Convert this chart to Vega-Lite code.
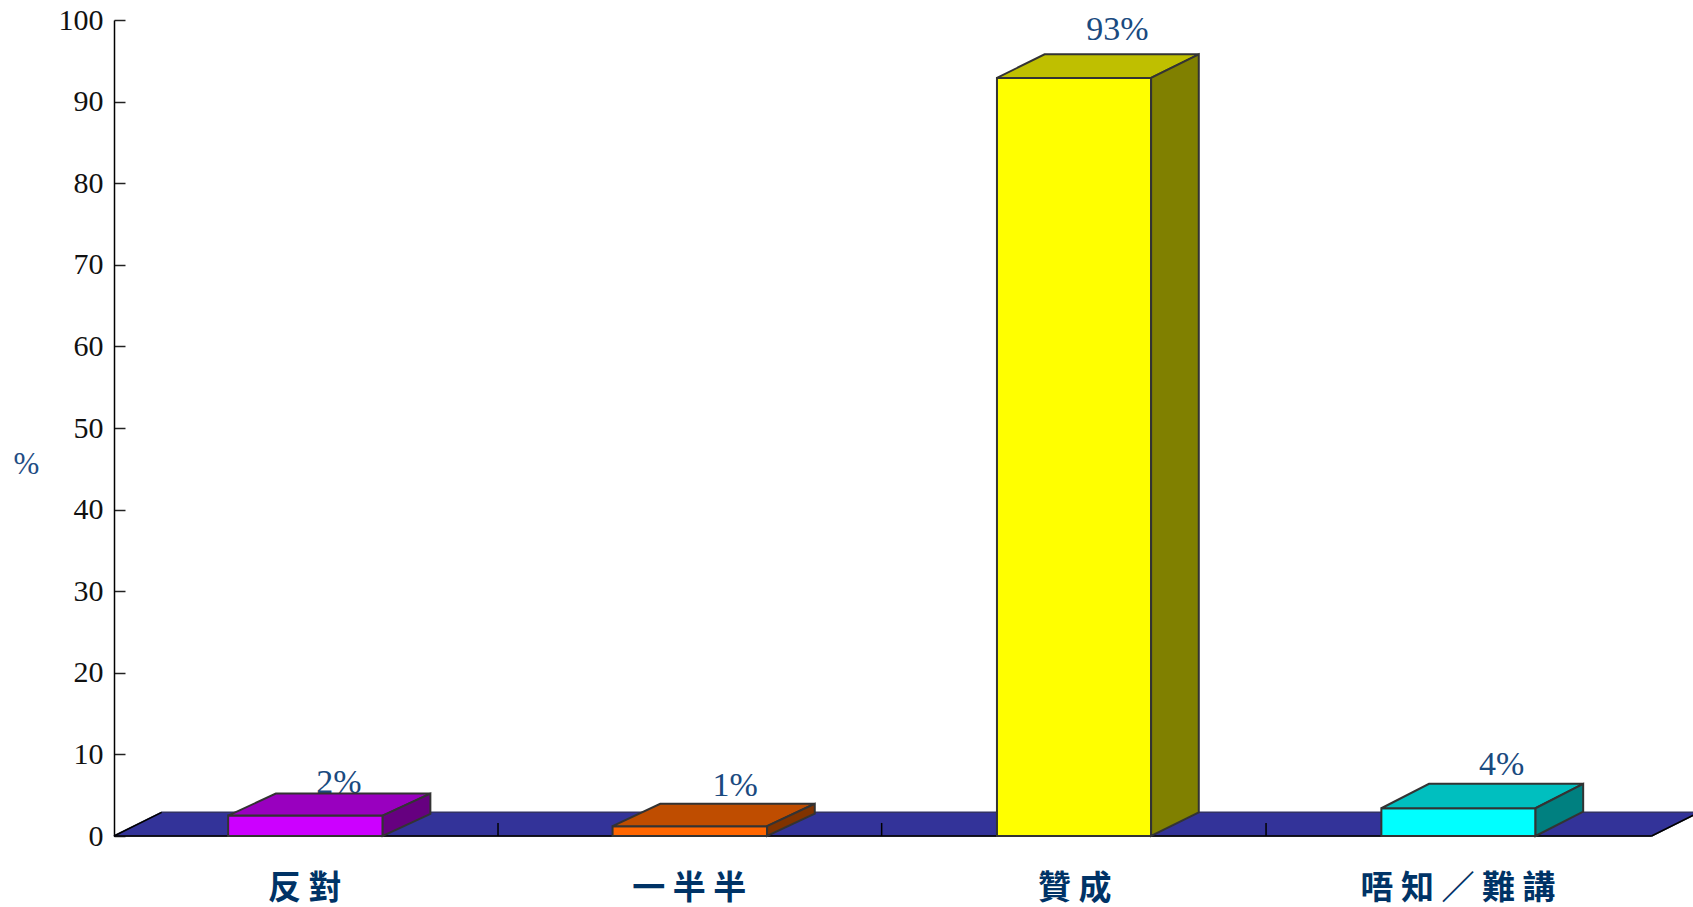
{
"$schema":"https://vega.github.io/schema/vega-lite/v6.json",
"autosize":{"type":"none"},
"padding":{"left":114,"top":20,"right":0,"bottom":71},
"width":1579,"height":816,
"background":"white",
"view":{"stroke":null},
"encoding":{
"x":{"field":"x","type":"quantitative","scale":{"domain":[0,4.1077],"nice":false,"zero":false},
"axis":{"title":null,"values":[0.495,1.495,2.498,3.495],"labelExpr":"['反 對','一 半 半','贊 成','唔 知 ／ 難 講'][floor(datum.value)]","domain":false,"ticks":false,"grid":false,"labelFont":"Noto Sans CJK TC","labelFontWeight":"bold","labelFontSize":33,"labelColor":"#003366","labelPadding":36,"labelBaseline":"top","labelFlush":false,"labelBound":false,"labelOverlap":false,"labelLimit":400}},
"y":{"field":"y","type":"quantitative","stack":null,"scale":{"domain":[0,100],"nice":false},
"axis":{"title":"%","titleAngle":0,"titleFont":"Liberation Serif","titleFontWeight":"normal","titleFontSize":31,"titleColor":"#1f4e85","titleX":-88,"titleY":460,"titleAlign":"center","values":[0,10,20,30,40,50,60,70,80,90,100],"grid":false,"domainColor":"#000000","domainWidth":1.5,"tickColor":"#222222","tickWidth":1.5,"tickSize":-11,"labelFont":"Liberation Serif","labelFontSize":30,"labelColor":"#111111","labelPadding":22,"labelBaseline":"middle"}}
},
"layer":[
{"data":{"values":[{"x":0,"y":0,"y2":0},{"x":0.124,"y":2.9,"y2":0},{"x":4,"y":2.9,"y2":0},{"x":4.124,"y":2.9,"y2":2.9}]},
"mark":{"type":"area","color":"#333399","stroke":"#333366","strokeWidth":1.5},
"encoding":{"y2":{"field":"y2"}}},
{"data":{"values":[
{"edge":"front","x":0,"y":0},{"edge":"front","x":4,"y":0},
{"edge":"left","x":0,"y":0},{"edge":"left","x":0.124,"y":2.9},
{"edge":"right","x":4,"y":0},{"edge":"right","x":4.124,"y":2.9},
{"edge":"t1","x":0.999,"y":0},{"edge":"t1","x":0.999,"y":1.6},
{"edge":"t2","x":1.997,"y":0},{"edge":"t2","x":1.997,"y":1.6},
{"edge":"t3","x":2.997,"y":0},{"edge":"t3","x":2.997,"y":1.6}]},
"mark":{"type":"line","color":"#000000","strokeWidth":1.5},
"encoding":{"detail":{"field":"edge"}}},
{"data":{"values":[
{"label":"2%","x":0.585,"y":5.3},{"label":"1%","x":1.616,"y":4.95},{"label":"93%","x":2.61,"y":97.5},{"label":"4%","x":3.61,"y":7.45}]},
"mark":{"type":"text","font":"Liberation Serif","fontSize":34,"color":"#1a4a7f","align":"center","baseline":"alphabetic"},
"encoding":{"text":{"field":"label"}}},
{"data":{"values":[
{"face":"a-front","x":0.297,"y":2.5,"y2":0},{"face":"a-front","x":0.699,"y":2.5,"y2":0},
{"face":"a-top","x":0.297,"y":2.5,"y2":2.5},{"face":"a-top","x":0.421,"y":5.2,"y2":2.5},{"face":"a-top","x":0.699,"y":5.2,"y2":2.5},{"face":"a-top","x":0.823,"y":5.2,"y2":5.2},
{"face":"a-side","x":0.699,"y":2.5,"y2":0},{"face":"a-side","x":0.823,"y":5.2,"y2":2.7},
{"face":"b-front","x":1.297,"y":1.2,"y2":0},{"face":"b-front","x":1.699,"y":1.2,"y2":0},
{"face":"b-top","x":1.297,"y":1.2,"y2":1.2},{"face":"b-top","x":1.421,"y":3.95,"y2":1.2},{"face":"b-top","x":1.699,"y":3.95,"y2":1.2},{"face":"b-top","x":1.823,"y":3.95,"y2":3.95},
{"face":"b-side","x":1.699,"y":1.2,"y2":0},{"face":"b-side","x":1.823,"y":3.95,"y2":2.75},
{"face":"c-front","x":2.297,"y":92.9,"y2":0},{"face":"c-front","x":2.698,"y":92.9,"y2":0},
{"face":"c-top","x":2.297,"y":92.9,"y2":92.9},{"face":"c-top","x":2.421,"y":95.8,"y2":92.9},{"face":"c-top","x":2.698,"y":95.8,"y2":92.9},{"face":"c-top","x":2.822,"y":95.8,"y2":95.8},
{"face":"c-side","x":2.698,"y":92.9,"y2":0},{"face":"c-side","x":2.822,"y":95.8,"y2":2.9},
{"face":"d-front","x":3.297,"y":3.4,"y2":0},{"face":"d-front","x":3.698,"y":3.4,"y2":0},
{"face":"d-top","x":3.297,"y":3.4,"y2":3.4},{"face":"d-top","x":3.421,"y":6.4,"y2":3.4},{"face":"d-top","x":3.698,"y":6.4,"y2":3.4},{"face":"d-top","x":3.822,"y":6.4,"y2":6.4},
{"face":"d-side","x":3.698,"y":3.4,"y2":0},{"face":"d-side","x":3.822,"y":6.4,"y2":3}
]},
"mark":{"type":"area","stroke":"#333333","strokeWidth":2,"opacity":1},
"encoding":{"y2":{"field":"y2"},
"color":{"field":"face","type":"nominal","legend":null,"scale":{
"domain":["a-front","a-top","a-side","b-front","b-top","b-side","c-front","c-top","c-side","d-front","d-top","d-side"],
"range":["#CC00FF","#9900BF","#660080","#FF6600","#BF4D00","#803300","#FFFF00","#BFBF00","#808000","#00FFFF","#00BFBF","#008080"]}}}}
]}
